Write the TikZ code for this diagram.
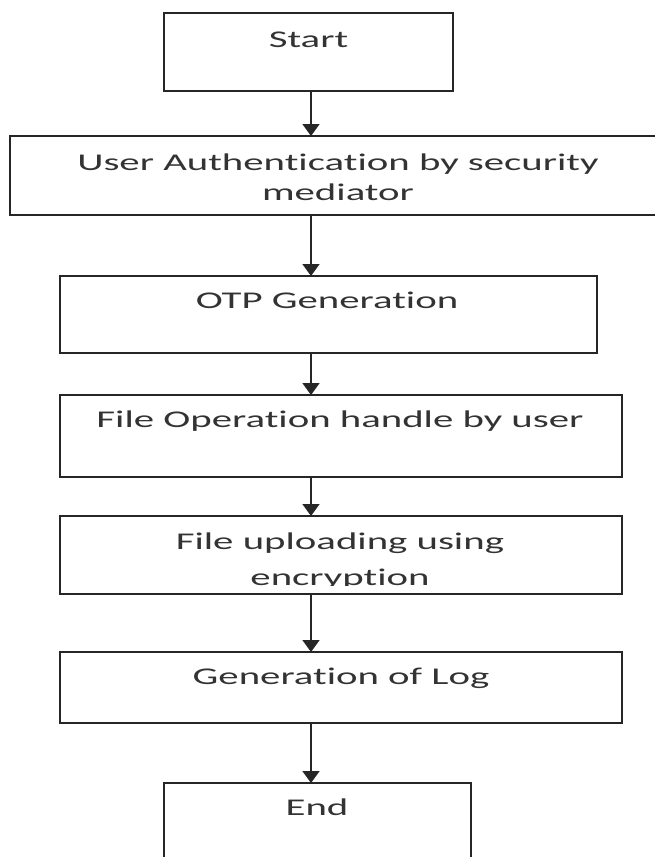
\documentclass[tikz,border=0pt]{standalone}
\usepackage{fontspec}
\setmainfont{Carlito}[FakeStretch=1.7,Ligatures=NoCommon,Contextuals=NoAlternate,RawFeature={-liga;-clig;-calt;-dlig}]
\usetikzlibrary{arrows.meta}
\definecolor{linecol}{HTML}{262626}
\definecolor{textcol}{HTML}{333333}
\begin{document}
\begin{tikzpicture}[x=1pt,y=-1pt,
  box/.style={draw=linecol, line width=1.8pt, rectangle, inner sep=0pt, outer sep=0pt},
  lbl/.style={anchor=base, inner sep=0pt, text=textcol, font=\fontsize{24}{25}\selectfont},
  arr/.style={draw=linecol, line width=1.8pt, -{Triangle[length=12pt,width=17pt]}}]
\useasboundingbox (0,0) rectangle (655,857);
\clip (0,0) rectangle (655,857);
\fill[white] (0,0) rectangle (655,857);
\coordinate (axis) at (311,0);
% texts
\node[lbl] (tstart) at (308.5,47) {Start};
\node[lbl] (tua1) at (338,170) {User Authentication by security};
\node[lbl] (tua2) at (338,200) {mediator};
\node[lbl] (totp) at (327,308) {OTP Generation};
\node[lbl] (tfo) at (340,427) {File Operation handle by user};
\node[lbl] (tfu1) at (340,549) {File uploading using};
\begin{scope}
  \clip (62,555) rectangle (620,585.5);
  \node[lbl] (tfu2) at (340,585) {encryption};
\end{scope}
\node[lbl] (tgl) at (341,684) {Generation of Log};
\node[lbl] (tend) at (317,815) {End};
% boxes
\node[box, minimum width=289pt, minimum height=78pt] (start) at (308.5,52) {};
\node[box, minimum width=657pt, minimum height=79pt] (ua) at (338.5,175.5) {};
\node[box, minimum width=537pt, minimum height=77pt] (otp) at (328.5,314.5) {};
\node[box, minimum width=562pt, minimum height=82pt] (fo) at (341,436) {};
\node[box, minimum width=562pt, minimum height=78pt] (fu) at (341,555) {};
\node[box, minimum width=562pt, minimum height=71pt] (gl) at (341,687.5) {};
\node[box, minimum width=307pt, minimum height=97pt] (end) at (317.5,831.5) {};
% connectors
\draw[arr] (start.south -| axis) -- (ua.north -| axis);
\draw[arr] (ua.south -| axis) -- (otp.north -| axis);
\draw[arr] (otp.south -| axis) -- (fo.north -| axis);
\draw[arr] (fo.south -| axis) -- (fu.north -| axis);
\draw[arr] (fu.south -| axis) -- (gl.north -| axis);
\draw[arr] (gl.south -| axis) -- (end.north -| axis);
\end{tikzpicture}
\end{document}
